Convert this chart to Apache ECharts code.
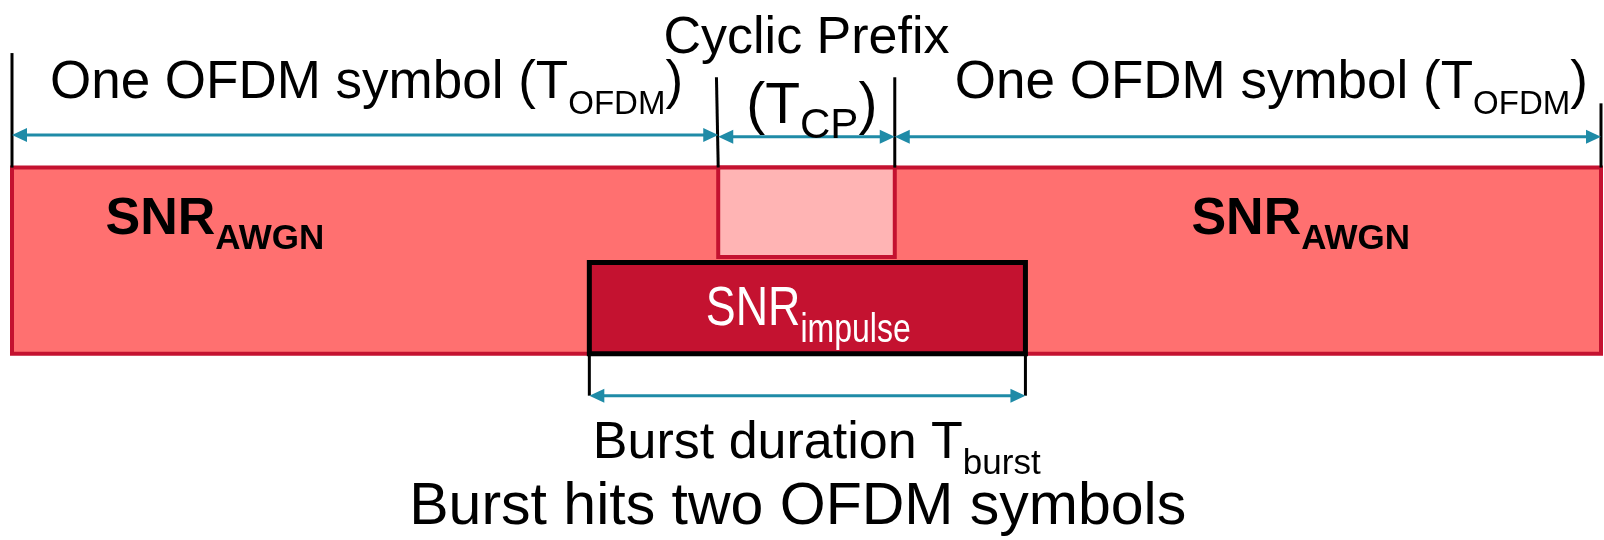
<!DOCTYPE html>
<html>
<head>
<meta charset="utf-8">
<script src="https://cdn.jsdelivr.net/npm/echarts@6/dist/echarts.min.js"></script>
<style>html,body{margin:0;padding:0;background:#fff}#chart{width:1604px;height:540px}</style>
</head>
<body>
<div id="chart"></div>
<script>
// time in units where T_OFDM = 4 and T_CP = 1
const segNames = ['OFDM symbol 1', 'Cyclic prefix', 'OFDM symbol 2']
const segStart = [0, 4, 5]
const segEnd = [4, 5, 9]
const burstStart = 3.27
const burstEnd = 5.74
// vertical levels of the blocks (arbitrary units)
const barLevel = [0, 2]
const cpLevel = [1.04, 2]
const impulseLevel = [0, 0.98]
// dimension arrows: [from, to, level]
const dimArrows = [
  [segStart[0], segEnd[0], 2.35],
  [segStart[1], segEnd[1], 2.33],
  [segStart[2], segEnd[2], 2.33],
  [burstStart, burstEnd, -0.45],
]
// marker ticks: [xTop, yTop, xBottom, yBottom]
const ticks = [
  [0, 3.23, 0, 2],
  [3.99, 2.97, 4, 2],
  [5, 2.97, 5, 2],
  [9, 2.69, 9, 2],
  [burstStart, 0, burstStart, -0.45],
  [burstEnd, 0, burstEnd, -0.45],
]
// text labels
const labelMain = ['One OFDM symbol (T', 'Cyclic Prefix', '(T', 'One OFDM symbol (T', 'SNR', 'SNR', 'SNR', 'Burst duration T', 'Burst hits two OFDM symbols']
const labelSub = ['OFDM', '', 'CP', 'OFDM', 'AWGN', 'AWGN', 'impulse', 'burst', '']
const labelTail = [')', '', ')', ')', '', '', '', '', '']
const labelX = [0.215, 4.5, 4.53, 5.34, 0.53, 6.68, 3.93, 3.29, 2.25]
const labelY = [2.9, 3.38, 2.65, 2.9, 1.44, 1.44, 0.47, -0.965, -1.65]

const teal = '#1f8ba7'
const crimson = '#c41230'

// subscript sits on the line bottom, so the main line height sets the drop
function rich(size, subSize, drop, extra) {
  const L = 2 * (drop + 0.35 * (size - subSize) + subSize / 2)
  return {
    m: Object.assign({ fontSize: size, lineHeight: L }, extra),
    s: Object.assign({ fontSize: subSize, verticalAlign: 'bottom' }, extra),
  }
}
const plain = { fontFamily: 'Liberation Sans', fill: '#000' }
const bold = Object.assign({ fontWeight: 'bold' }, plain)
const white = { fontFamily: 'Liberation Sans', fill: '#fff' }
const labelStyle = [
  { rich: rich(53, 33, 14, plain), align: 'left' },
  { rich: rich(52, 30, 0, plain), align: 'center' },
  { rich: rich(57, 42, 14, plain), align: 'center' },
  { rich: rich(53, 33, 14, plain), align: 'left' },
  { rich: rich(52, 35, 14, bold), align: 'left' },
  { rich: rich(52, 35, 14, bold), align: 'left' },
  { rich: rich(56, 40, 15, white), align: 'left', scaleX: 0.8 },
  { rich: rich(52, 35, 15, plain), align: 'left' },
  { rich: rich(59, 40, 0, plain), align: 'left' },
]

const boxes = [
  [segStart[0], segEnd[2], barLevel[0], barLevel[1]],
  [segStart[1], segEnd[1], cpLevel[0], cpLevel[1]],
  [burstStart, burstEnd, impulseLevel[0], impulseLevel[1]],
]
const boxStyle = [
  { fill: '#ff7070', stroke: crimson, lineWidth: 4 },
  { fill: '#ffb4b4', stroke: crimson, lineWidth: 4 },
  { fill: crimson, stroke: '#000', lineWidth: 5 },
]

const chart = echarts.init(document.getElementById('chart'))
chart.setOption({
  animation: false,
  grid: { left: 12, right: 3, top: 0, bottom: 0 },
  xAxis: { type: 'value', min: 0, max: 9, show: false },
  yAxis: { type: 'value', min: -2, max: 3.8, show: false },
  series: [
    {
      type: 'custom',
      silent: true,
      data: boxes,
      renderItem: (params, api) => {
        const p0 = api.coord([api.value(0), api.value(3)])
        const p1 = api.coord([api.value(1), api.value(2)])
        return {
          type: 'rect',
          shape: { x: p0[0], y: p0[1], width: p1[0] - p0[0], height: p1[1] - p0[1] },
          style: boxStyle[params.dataIndex],
        }
      },
    },
    {
      type: 'custom',
      silent: true,
      data: ticks,
      renderItem: (params, api) => {
        const a = api.coord([api.value(0), api.value(1)])
        const b = api.coord([api.value(2), api.value(3)])
        return {
          type: 'line',
          shape: { x1: a[0], y1: a[1], x2: b[0], y2: b[1] },
          style: { stroke: '#000', lineWidth: 3 },
        }
      },
    },
    {
      type: 'custom',
      silent: true,
      data: dimArrows,
      renderItem: (params, api) => {
        const a = api.coord([api.value(0), api.value(2)])
        const b = api.coord([api.value(1), api.value(2)])
        const h = 15, w = 7
        return {
          type: 'group',
          children: [
            { type: 'line', shape: { x1: a[0] + h - 2, y1: a[1], x2: b[0] - h + 2, y2: b[1] }, style: { stroke: teal, lineWidth: 3 } },
            { type: 'polygon', shape: { points: [[a[0], a[1]], [a[0] + h, a[1] - w], [a[0] + h, a[1] + w]] }, style: { fill: teal } },
            { type: 'polygon', shape: { points: [[b[0], b[1]], [b[0] - h, b[1] - w], [b[0] - h, b[1] + w]] }, style: { fill: teal } },
          ],
        }
      },
    },
    {
      type: 'custom',
      silent: true,
      data: labelX.map((x, i) => [x, labelY[i]]),
      renderItem: (params, api) => {
        const i = params.dataIndex
        const p = api.coord([api.value(0), api.value(1)])
        const st = labelStyle[i]
        return {
          type: 'text',
          x: p[0],
          y: p[1],
          scaleX: st.scaleX || 1,
          style: {
            text: '{m|' + labelMain[i] + '}' + (labelSub[i] ? '{s|' + labelSub[i] + '}' : '') + (labelTail[i] ? '{m|' + labelTail[i] + '}' : ''),
            rich: st.rich,
            align: st.align,
            verticalAlign: 'middle',
          },
        }
      },
    },
  ],
})
</script>
</body>
</html>
